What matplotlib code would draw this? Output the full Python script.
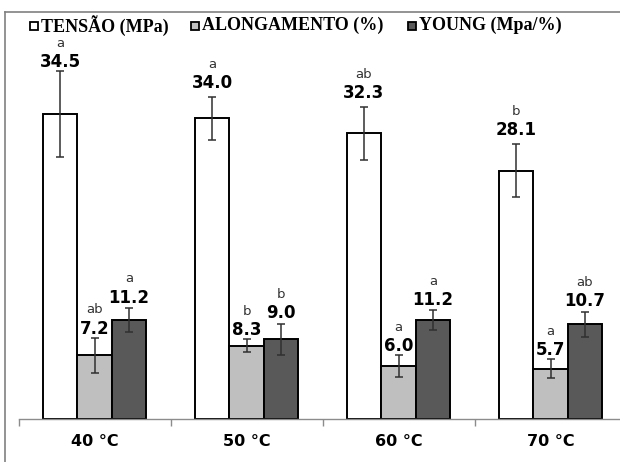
import matplotlib
matplotlib.use('Agg')
import matplotlib.pyplot as plt
from matplotlib.lines import Line2D
from matplotlib.patches import Rectangle
import numpy as np

categories = ['40 °C', '50 °C', '60 °C', '70 °C']
series = ['TENSÃO (MPa)', 'ALONGAMENTO (%)', 'YOUNG (Mpa/%)']
tensao = [34.5, 34.0, 32.3, 28.1]
alongamento = [7.2, 8.3, 6.0, 5.7]
young = [11.2, 9.0, 11.2, 10.7]
tensao_err = [4.9, 2.4, 3.0, 3.0]
alongamento_err = [2.0, 0.7, 1.25, 1.1]
young_err = [1.35, 1.8, 1.1, 1.4]
tensao_letters = ['a', 'a', 'ab', 'b']
alongamento_letters = ['ab', 'b', 'a', 'a']
young_letters = ['a', 'b', 'a', 'ab']

colors = ['#FFFFFF', '#BFBFBF', '#595959']
values = [tensao, alongamento, young]
errors = [tensao_err, alongamento_err, young_err]
letters = [tensao_letters, alongamento_letters, young_letters]
label_pad = [6.5, 3.0, 4.0]   # points between error cap and value label

fig = plt.figure(figsize=(6.2, 4.62), dpi=100)
ax = fig.add_axes([18.5 / 620, 43 / 462, 1 - 18.5 / 620, 380 / 462])

px_per_unit = 8.84
pt_per_unit = px_per_unit * 72 / 100
label_cap = 39.8   # keep the tallest label stack below the legend

x = np.arange(len(categories))
width = 0.227
for i in range(3):
    pos = x + (i - 1) * width
    ax.bar(pos, values[i], width, color=colors[i], edgecolor='black',
           linewidth=1.4, zorder=2)
    ax.errorbar(pos, values[i], yerr=errors[i], fmt='none', ecolor='#303030',
                elinewidth=1.1, capsize=3, capthick=1.1, zorder=3)
    for p, v, e, l in zip(pos, values[i], errors[i], letters[i]):
        base = min(v + e + label_pad[i] / pt_per_unit, label_cap)
        ax.text(p, base, '%.1f' % v, ha='center', va='baseline',
                fontsize=12, fontweight='bold', zorder=4)
        ax.annotate(l, (p, base), xytext=(0, 14.5),
                    textcoords='offset points', ha='center', va='baseline',
                    fontsize=9.5, color='#333333', zorder=4)

ax.set_xlim(-0.5, -0.5 + 601.5 / 152)
ax.set_ylim(0, 380 / px_per_unit)
for s in ['top', 'right', 'left']:
    ax.spines[s].set_visible(False)
ax.spines['bottom'].set_color('#8c8c8c')
ax.spines['bottom'].set_linewidth(1.0)
ax.set_yticks([])
ax.set_xticks(x)
ax.set_xticklabels(categories, fontsize=11.5, fontweight='bold')
ax.tick_params(axis='x', which='major', length=0, pad=11)
ax.set_xticks([-0.5, 0.5, 1.5, 2.5], minor=True)
ax.tick_params(axis='x', which='minor', length=5, color='#8c8c8c', width=1.0)

# outer frame (top and left)
fig.add_artist(Line2D([5 / 620, 1], [1 - 12 / 462, 1 - 12 / 462],
                      color='#808080', linewidth=1.2))
fig.add_artist(Line2D([5 / 620, 5 / 620], [0, 1 - 12 / 462],
                      color='#808080', linewidth=1.2))

# legend
legend_x = [30, 191, 408]
for lx, name, c in zip(legend_x, series, colors):
    fig.add_artist(Rectangle((lx / 620, 1 - 30 / 462), 8 / 620, 8 / 462,
                             transform=fig.transFigure, facecolor=c,
                             edgecolor='black', linewidth=1.3))
    fig.text((lx + 11) / 620, 1 - 25.5 / 462, name, fontsize=13,
             fontweight='bold', family='Liberation Serif',
             va='center', ha='left')

plt.savefig('out.png', dpi=100)
